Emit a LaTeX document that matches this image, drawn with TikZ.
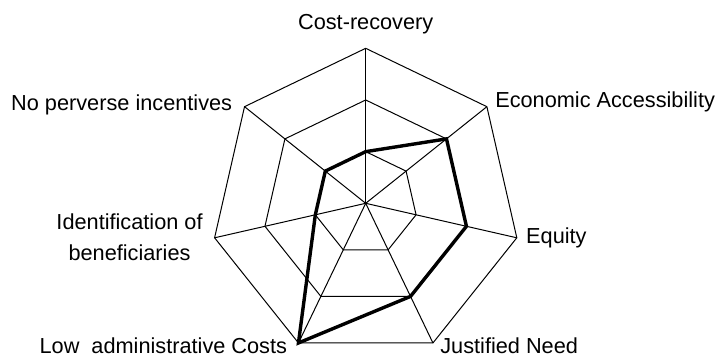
\documentclass[tikz,border=0pt]{standalone}
\usepackage{fontspec}
\setmainfont{Liberation Sans}
\usetikzlibrary{calc}

\begin{document}
\begin{tikzpicture}[x=0.5bp,y=0.5bp,
  grid/.style={line width=0.5bp},
  score/.style={line width=1.7bp,line join=miter},
  axislabel/.style={inner sep=0pt,align=center,font=\fontsize{10.9}{15.5}\selectfont}]
% Parameters
\def\R{155};
\useasboundingbox (-365.7,-155.7) rectangle (351.3,203.3);

% Spokes and rings
\foreach \k in {0,...,6} {
  \coordinate (v\k) at ({90-\k*360/7}:\R);
  \coordinate (m\k) at ({90-\k*360/7}:{2*\R/3});
  \coordinate (i\k) at ({90-\k*360/7}:{\R/3});
  \draw[grid] (0,0) -- (v\k);
}
\draw[grid] (v0) -- (v1) -- (v2) -- (v3) -- (v4) -- (v5) -- (v6) -- cycle;
\draw[grid] (m0) -- (m1) -- (m2) -- (m3) -- (m4) -- (m5) -- (m6) -- cycle;
\draw[grid] (i0) -- (i1) -- (i2) -- (i3) -- (i4) -- (i5) -- (i6) -- cycle;

% Scores
\foreach \k/\s in {0/1,1/2,2/2,3/2,4/3,5/1,6/1}
  \coordinate (d\k) at ({90-\k*360/7}:{\s*\R/3});
\draw[score] (d0) -- (d1) -- (d2) -- (d3) -- (d4) -- (d5) -- (d6) -- cycle;

% Axis labels
\node[axislabel,anchor=base] (cost) at ($(v0)+(0,19)$) {Cost-recovery};
\node[axislabel,anchor=base west] (econ) at ($(v1)+(8,-1)$) {Economic Accessibility};
\node[axislabel,anchor=base west] (equity) at ($(v2)+(9,-6)$) {Equity};
\node[axislabel,anchor=base west] (need) at ($(v3)+(7,-11)$) {Justified Need};
\node[axislabel,anchor=base east] (admin) at ($(v4)+(-11,-11)$) {Low\ \ administrative Costs};
\node[axislabel,anchor=east] (ident) at ($(v5)+(-11.6,1)$) {Identification of\\beneficiaries};
\node[axislabel,anchor=base east] (perverse) at ($(v6)+(-12,-4)$) {No perverse incentives};
\end{tikzpicture}
\end{document}
